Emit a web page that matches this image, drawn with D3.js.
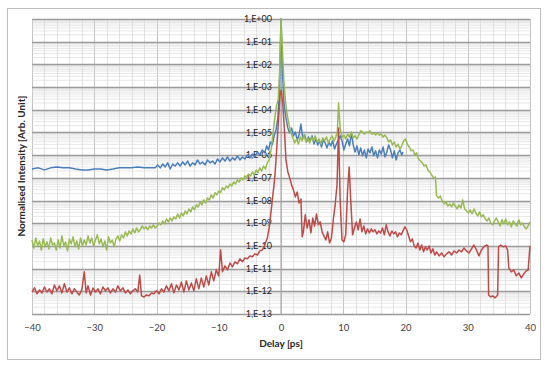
<!DOCTYPE html>
<html>
<head>
<meta charset="utf-8">
<script src="https://cdn.jsdelivr.net/npm/d3@7"></script>
<style>
  body { margin: 0; background: #fff; }
  svg { display: block; font-family: Lato, "Open Sans", sans-serif; }
</style>
</head>
<body>
<div id="chart"></div>
<script>
//---------------------------------- Data --------------------
// each point: [delay in ps, log10 of normalised intensity]
var xTicks = [-40, -30, -20, -10, 0, 10, 20, 30, 40];
var decades = [0, -1, -2, -3, -4, -5, -6, -7, -8, -9, -10, -11, -12, -13];
var decadeLabels = ["1,E+00", "1,E-01", "1,E-02", "1,E-03", "1,E-04", "1,E-05", "1,E-06",
                    "1,E-07", "1,E-08", "1,E-09", "1,E-10", "1,E-11", "1,E-12", "1,E-13"];

var blueSeries = [[-40,-6.61],[-39,-6.56],[-38,-6.65],[-37,-6.56],[-36,-6.52],[-35,-6.56],[-34,-6.56],[-33,-6.61],[-32,-6.65],[-31,-6.65],[-30,-6.61],[-29,-6.61],[-28,-6.65],[-27,-6.61],[-26,-6.56],[-25,-6.56],[-24,-6.56],[-23,-6.52],[-22,-6.56],[-21,-6.56],[-20.2,-6.56],
  [-19.8,-6.43],[-19.4,-6.56],[-19,-6.39],[-18.6,-6.52],[-18.2,-6.34],[-17.8,-6.61],[-17.4,-6.39],[-17,-6.48],[-16.6,-6.34],[-16.2,-6.48],[-15.8,-6.30],[-15.4,-6.43],[-15,-6.26],[-14.6,-6.48],[-14.2,-6.34],[-13.8,-6.43],[-13.4,-6.21],[-13,-6.39],[-12.6,-6.30],[-12.2,-6.43],[-11.8,-6.21],[-11.4,-6.34],[-11,-6.26],[-10.6,-6.39],[-10.2,-6.17],[-9.8,-6.30],[-9.4,-6.12],[-9,-6.26],[-8.6,-6.08],[-8.2,-6.26],[-7.8,-6.12],[-7.4,-6.21],[-7,-6.03],[-6.6,-6.21],[-6.2,-6.08],[-5.8,-6.17],[-5.4,-5.99],[-5,-6.12],[-4.6,-5.95],[-4.2,-6.08],[-3.8,-5.86],[-3.4,-5.99],[-3,-5.77],[-2.6,-5.90],[-2.3,-5.59],[-2,-5.77],[-1.7,-5.42],[-1.4,-5.55],[-1.1,-5.15],[-0.8,-4.89],[-0.5,-4.36],[-0.25,-3.13],[0,0],
  [0.25,-2.47],[0.5,-3.79],[0.8,-4.36],[1.1,-4.80],[1.4,-5.02],[1.7,-4.80],[2,-5.15],[2.3,-4.98],[2.6,-5.33],[2.9,-5.11],[3.2,-4.63],[3.5,-5.24],[3.8,-5.11],[4.1,-5.42],[4.4,-5.20],[4.7,-5.37],[5,-5.15],[5.3,-5.51],[5.6,-5.29],[5.9,-5.55],[6.2,-5.37],[6.5,-5.64],[6.8,-5.33],[7.1,-5.46],[7.4,-5.68],[7.7,-5.42],[8,-5.59],[8.3,-5.37],[8.6,-5.73],[8.9,-5.51],[9.2,-5.33],[9.5,-5.15],[9.8,-5.37],[10.1,-5.77],[10.4,-5.51],[10.7,-5.29],[11,-5.59],[11.3,-5.02],[11.6,-5.55],[11.9,-5.86],[12.2,-5.59],[12.5,-5.99],[12.8,-5.68],[13.1,-6.03],[13.4,-5.77],[13.7,-6.12],[14,-5.73],[14.3,-5.90],[14.6,-5.64],[14.9,-6.03],[15.2,-5.81],[15.5,-6.12],[15.8,-5.77],[16.1,-5.95],[16.4,-5.64],[16.7,-6.08],[17,-5.86],[17.3,-5.55],[17.6,-5.77],[17.9,-6.12],[18.2,-5.81],[18.5,-6.21],[18.8,-5.90],[19.1,-5.77],[19.4,-5.99],[19.6,-5.86]];

var greenSeries = [[-40,-9.74],[-39.7,-10.09],[-39.4,-9.65],[-39.1,-10.00],[-38.8,-9.78],[-38.5,-10.18],[-38.2,-9.69],[-37.9,-10.04],[-37.6,-9.82],[-37.3,-10.13],[-37,-9.65],[-36.7,-9.96],[-36.4,-9.87],[-36.1,-10.18],[-35.8,-9.74],[-35.5,-10.09],[-35.2,-9.56],[-34.9,-10.00],[-34.6,-9.82],[-34.3,-10.22],[-34,-9.69],[-33.7,-9.91],[-33.4,-9.60],[-33.1,-10.04],[-32.8,-9.78],[-32.5,-10.13],[-32.2,-9.65],[-31.9,-10.00],[-31.6,-9.74],[-31.3,-9.96],[-31,-9.56],[-30.7,-9.87],[-30.4,-9.65],[-30.1,-10.00],[-29.8,-9.74],[-29.5,-9.51],[-29.2,-9.91],[-28.9,-9.69],[-28.6,-10.04],[-28.3,-9.78],[-28,-10.18],[-27.7,-9.60],[-27.4,-9.87],[-27.1,-9.74],[-26.8,-10.04],[-26.5,-9.69],[-26.2,-9.56],[-25.9,-9.78],[-25.6,-9.51],[-25.3,-9.65],
  [-25,-9.38],[-24.7,-9.56],[-24.4,-9.34],[-24.1,-9.47],[-23.8,-9.25],[-23.5,-9.43],[-23.2,-9.21],[-22.9,-9.38],[-22.6,-9.29],[-22.3,-9.12],[-22,-9.25],[-21.7,-9.16],[-21.4,-9.29],[-21.1,-9.12],[-20.8,-9.21],[-20.5,-9.07],[-20.2,-9.21],[-19.9,-9.12],[-19.6,-8.99],[-19.3,-9.07],[-19,-8.90],[-18.7,-9.03],[-18.4,-8.81],[-18.1,-8.94],[-17.8,-8.77],[-17.5,-8.90],[-17.2,-8.72],[-16.9,-8.81],[-16.6,-8.59],[-16.3,-8.77],[-16,-8.55],[-15.7,-8.68],[-15.4,-8.46],[-15.1,-8.59],[-14.8,-8.37],[-14.5,-8.50],[-14.2,-8.28],[-13.9,-8.41],[-13.6,-8.19],[-13.3,-8.28],[-13,-8.06],[-12.7,-8.19],[-12.4,-7.97],[-12.1,-8.11],[-11.8,-7.89],[-11.5,-7.97],[-11.2,-7.75],[-10.9,-7.89],[-10.6,-7.66],[-10.3,-7.75],[-10,-7.58],[-9.7,-7.66],[-9.4,-7.44],[-9.1,-7.53],[-8.8,-7.36],[-8.5,-7.44],[-8.2,-7.27],[-7.9,-7.36],[-7.6,-7.18],[-7.3,-7.27],[-7,-7.09],[-6.7,-7.18],[-6.4,-7.00],[-6.1,-7.09],[-5.8,-6.92],[-5.5,-7.00],[-5.2,-6.83],[-4.9,-6.92],[-4.6,-6.74],[-4.3,-6.87],[-4,-6.65],[-3.7,-6.78],[-3.4,-6.56],[-3.1,-6.70],[-2.8,-6.48],[-2.5,-6.61],[-2.2,-6.34],[-1.9,-6.21],[-1.6,-5.77],[-1.3,-5.11],[-1,-4.36],[-0.7,-3.79],[-0.45,-3.57],[-0.2,-2.25],[0,0],
  [0.2,-1.15],[0.45,-2.69],[0.7,-3.57],[1,-4.23],[1.3,-4.67],[1.6,-4.98],[1.9,-5.24],[2.2,-5.46],[2.5,-5.29],[2.8,-5.51],[3.1,-5.20],[3.4,-5.37],[3.7,-5.11],[4,-5.42],[4.3,-5.24],[4.6,-5.46],[4.9,-5.20],[5.2,-5.37],[5.5,-5.15],[5.8,-5.42],[6.1,-5.29],[6.4,-5.51],[6.7,-5.24],[7,-5.37],[7.3,-5.20],[7.6,-5.46],[7.9,-5.29],[8.2,-5.15],[8.5,-5.37],[8.8,-5.20],[9.05,-4.98],[9.25,-3.70],[9.5,-4.80],[9.8,-5.24],[10.1,-5.11],[10.4,-5.29],[10.7,-5.07],[11,-5.20],[11.3,-4.98],[11.6,-5.24],[11.9,-5.15],[12.2,-5.29],[12.5,-5.11],[12.8,-4.93],[13.1,-4.98],[13.4,-5.07],[13.7,-4.98],[14,-5.02],[14.3,-4.93],[14.6,-5.07],[14.9,-5.02],[15.2,-5.11],[15.5,-5.02],[15.8,-5.11],[16.1,-5.07],[16.4,-5.20],[16.7,-5.11],[17,-5.24],[17.3,-5.42],[17.6,-5.33],[17.9,-5.55],[18.2,-5.42],[18.5,-5.64],[18.8,-5.51],[19.1,-5.73],[19.4,-5.59],[19.7,-5.37],[20,-5.29],[20.3,-5.51],[20.6,-5.64],[20.9,-5.81],[21.2,-5.77],[21.5,-5.99],[21.8,-5.90],[22.1,-6.17],[22.4,-6.26],[22.7,-6.34],[23,-6.48],[23.3,-6.43],[23.6,-6.65],[23.9,-6.74],[24.2,-6.87],[24.5,-7.00],[24.8,-6.96],
  [25,-7.80],[25.3,-7.89],[25.6,-7.80],[25.9,-8.02],[26.2,-8.15],[26.5,-8.06],[26.8,-8.24],[27.1,-8.15],[27.4,-8.28],[27.7,-8.11],[28,-8.24],[28.3,-8.37],[28.6,-8.19],[28.9,-8.33],[29.2,-7.97],[29.5,-8.37],[29.8,-8.46],[30.1,-8.55],[30.4,-8.41],[30.7,-8.59],[31,-8.37],[31.3,-8.55],[31.6,-8.68],[31.9,-8.50],[32.2,-8.72],[32.5,-8.63],[32.8,-8.81],[33.1,-8.90],[33.4,-8.77],[33.7,-8.99],[34,-9.07],[34.3,-8.90],[34.6,-8.77],[34.9,-8.94],[35.2,-9.12],[35.5,-8.85],[35.8,-9.03],[36.1,-8.81],[36.4,-9.07],[36.7,-8.94],[37,-9.16],[37.3,-8.90],[37.6,-9.03],[37.9,-9.12],[38.2,-8.85],[38.5,-9.07],[38.8,-8.99],[39.1,-9.16],[39.4,-9.25],[39.7,-9.12],[40,-8.94]];

var redSeries = [[-40,-12.03],[-39.6,-11.85],[-39.2,-12.11],[-38.8,-11.94],[-38.4,-12.07],[-38,-11.81],[-37.6,-12.03],[-37.2,-11.89],[-36.8,-12.11],[-36.4,-11.72],[-36,-11.98],[-35.6,-11.76],[-35.2,-12.07],[-34.8,-11.67],[-34.4,-12.03],[-34,-11.85],[-33.6,-12.11],[-33.2,-11.89],[-32.8,-12.03],[-32.4,-12.16],[-32,-11.94],[-31.6,-11.14],[-31.3,-12.07],[-31,-11.76],[-30.6,-12.16],[-30.2,-11.85],[-29.8,-12.03],[-29.4,-11.89],[-29,-12.11],[-28.6,-11.81],[-28.2,-11.98],[-27.8,-11.85],[-27.4,-12.07],[-27,-11.89],[-26.6,-12.03],[-26.2,-11.76],[-25.8,-11.98],[-25.4,-11.85],[-25,-12.07],[-24.6,-11.94],[-24.2,-12.11],[-23.8,-11.98],[-23.4,-11.89],[-23,-12.03],[-22.7,-11.28],[-22.4,-12.20],[-22,-12.25],[-21.6,-12.16],[-21.2,-12.20],[-20.8,-12.07],[-20.4,-12.11],
  [-20,-11.98],[-19.6,-12.11],[-19.2,-11.89],[-18.8,-12.03],[-18.4,-11.76],[-18,-11.98],[-17.6,-11.67],[-17.2,-12.07],[-16.8,-11.72],[-16.4,-11.94],[-16,-11.59],[-15.6,-12.03],[-15.2,-11.54],[-14.8,-11.94],[-14.4,-11.63],[-14,-11.98],[-13.6,-11.45],[-13.2,-11.89],[-12.8,-11.41],[-12.4,-11.81],[-12,-11.32],[-11.6,-11.72],[-11.2,-11.14],[-10.8,-11.54],[-10.4,-11.06],[-10,-11.32],[-9.7,-10.18],[-9.4,-11.14],[-9,-10.88],[-8.6,-11.06],[-8.2,-10.75],[-7.8,-10.92],[-7.4,-10.70],[-7,-10.79],[-6.6,-10.57],[-6.2,-10.70],[-5.8,-10.53],[-5.4,-10.57],[-5,-10.44],[-4.6,-10.48],[-4.2,-10.35],[-3.8,-10.40],[-3.4,-10.22],[-3,-10.18],[-2.6,-9.96],[-2.2,-9.65],[-1.9,-9.21],[-1.6,-8.50],[-1.3,-7.75],[-1,-7.00],[-0.7,-5.77],[-0.4,-4.45],[-0.15,-3.35],[0.05,-3.13],
  [0.3,-3.79],[0.55,-4.89],[0.8,-6.21],[1.1,-6.74],[1.4,-7.00],[1.7,-7.31],[2,-7.53],[2.3,-7.84],[2.6,-7.62],[2.9,-8.11],[3.2,-7.93],[3.4,-9.60],[3.6,-9.38],[3.9,-8.63],[4.2,-9.21],[4.5,-8.85],[4.8,-9.43],[5.1,-8.77],[5.4,-9.12],[5.7,-8.59],[6,-9.07],[6.3,-8.94],[6.6,-9.38],[6.9,-9.56],[7.2,-9.74],[7.5,-9.38],[7.8,-9.87],[8.1,-9.65],[8.4,-8.85],[8.7,-8.19],[9,-7.31],[9.25,-4.80],[9.5,-7.97],[9.8,-9.74],[10.1,-9.82],[10.4,-9.51],[10.7,-7.53],[10.95,-6.52],[11.2,-7.97],[11.5,-9.51],[11.8,-9.21],[12.1,-8.94],[12.4,-9.29],[12.7,-8.81],[13,-9.38],[13.3,-9.12],[13.6,-9.47],[13.9,-9.25],[14.2,-9.43],[14.5,-9.25],[14.8,-9.38],[15.1,-9.29],[15.4,-9.47],[15.7,-9.34],[16,-9.43],[16.3,-9.21],[16.6,-9.51],[16.9,-9.07],[17.2,-9.38],[17.5,-9.56],[17.8,-9.34],[18.1,-9.47],[18.4,-9.38],[18.7,-9.60],[19,-9.43],[19.3,-9.51],[19.6,-9.34],[19.9,-9.16],[20.2,-9.29],
  [20.5,-9.56],[20.8,-9.82],[21.1,-9.69],[21.4,-10.00],[21.7,-10.09],[22,-9.87],[22.3,-10.18],[22.6,-9.96],[22.9,-10.26],[23.2,-10.04],[23.5,-10.18],[23.8,-10.00],[24.1,-10.31],[24.4,-10.13],[24.7,-10.40],[25,-10.26],[25.4,-10.44],[25.8,-10.31],[26.2,-10.48],[26.6,-10.35],[27,-10.26],[27.4,-10.40],[27.8,-10.22],[28.2,-10.31],[28.6,-10.18],[29,-10.26],[29.4,-10.09],[29.8,-10.22],[30.2,-10.31],[30.6,-10.13],[31,-9.96],[31.4,-10.18],[31.8,-10.44],[32.2,-10.18],[32.6,-10.04],[33,-9.96],[33.25,-10.00],[33.35,-12.16],[33.7,-12.25],[34,-12.20],[34.4,-12.29],[34.8,-12.16],[34.95,-10.04],[35.3,-9.96],[35.7,-10.04],[36.1,-10.00],[36.4,-10.18],[36.6,-10.97],[37,-11.14],[37.4,-11.06],[37.8,-11.32],[38.2,-11.19],[38.6,-11.41],[39,-11.23],[39.4,-11.10],[39.7,-11.06],[40,-10.00]];

//---------------------------------- Layout --------------------
var width = 548, height = 365;
var plot = {left: 32, right: 530, top: 19, bottom: 314};

var svg = d3.select("#chart").append("svg")
    .attr("width", width)
    .attr("height", height);

// outer chart border
svg.append("rect")
    .attr("x", 7.5).attr("y", 8.5)
    .attr("width", 533).attr("height", 351)
    .style("fill", "none")
    .style("stroke", "#bdbdbd")
    .style("stroke-width", 1);

var x_scale = d3.scaleLinear().domain([-40, 40]).range([plot.left, plot.right]);
var y_scale = d3.scaleLog().domain([1e-13, 1]).range([plot.bottom, plot.top]);

//---------------------------------- Grid --------------------
var grid = svg.append("g").attr("class", "grid");

// vertical lines every 2 ps, darker every 10
grid.selectAll(".vline")
    .data(d3.range(-40, 41, 2))
    .enter().append("line")
    .attr("class", "vline")
    .attr("x1", function(d) { return Math.round(x_scale(d)) + 0.5; })
    .attr("x2", function(d) { return Math.round(x_scale(d)) + 0.5; })
    .attr("y1", plot.top)
    .attr("y2", plot.bottom)
    .style("stroke", function(d) { return d % 10 == 0 ? "#c4c4c4" : "#e2e2e2"; })
    .style("stroke-width", 1);

// minor log lines (2..9 per decade)
var minors = [];
decades.slice(0, -1).forEach(function(e) {
  for (var k = 2; k < 10; k++) minors.push(k * Math.pow(10, e - 1));
});

grid.selectAll(".hminor")
    .data(minors)
    .enter().append("line")
    .attr("class", "hminor")
    .attr("x1", plot.left)
    .attr("x2", plot.right)
    .attr("y1", function(d) { return y_scale(d); })
    .attr("y2", function(d) { return y_scale(d); })
    .style("stroke", "#d6d6d6")
    .style("stroke-width", 0.6);

grid.selectAll(".hmajor")
    .data(decades)
    .enter().append("line")
    .attr("class", "hmajor")
    .attr("x1", plot.left)
    .attr("x2", plot.right)
    .attr("y1", function(d) { return Math.round(y_scale(Math.pow(10, d))) + 0.5; })
    .attr("y2", function(d) { return Math.round(y_scale(Math.pow(10, d))) + 0.5; })
    .style("stroke", "#9a9a9a")
    .style("stroke-width", 1.3);

// vertical axis crossing at 0 ps
svg.append("line")
    .attr("x1", x_scale(0)).attr("x2", x_scale(0))
    .attr("y1", plot.top).attr("y2", plot.bottom)
    .style("stroke", "#a0a0a0");

//---------------------------------- Axis labels --------------------
svg.selectAll(".ylab")
    .data(decades)
    .enter().append("text")
    .attr("class", "ylab")
    .attr("x", x_scale(0) - 9)
    .attr("y", function(d) { return y_scale(Math.pow(10, d)); })
    .attr("dy", "0.35em")
    .attr("text-anchor", "end")
    .attr("font-size", "9px")
    .attr("fill", "#222")
    .text(function(d, i) { return decadeLabels[i]; });

var xAxis = d3.axisBottom(x_scale).tickValues(xTicks).tickSize(0).tickPadding(8);
var gx = svg.append("g")
    .attr("transform", "translate(0," + (plot.bottom + 2) + ")")
    .call(xAxis);
gx.select(".domain").remove();
gx.selectAll("text")
    .attr("font-family", "Lato, 'Open Sans', sans-serif")
    .attr("font-size", "9.5px")
    .attr("fill", "#404040");

svg.append("text")
    .attr("x", x_scale(0))
    .attr("y", 347)
    .attr("text-anchor", "middle")
    .attr("font-size", "10px")
    .attr("font-weight", "bold")
    .attr("fill", "#262626")
    .text("Delay [ps]");

svg.append("text")
    .attr("transform", "translate(25," + 166 + ") rotate(-90)")
    .attr("text-anchor", "middle")
    .attr("font-size", "10px")
    .attr("font-weight", "bold")
    .attr("fill", "#262626")
    .text("Normalised Intensity [Arb. Unit]");

//---------------------------------- Series --------------------
var line = d3.line()
    .x(function(d) { return x_scale(d[0]); })
    .y(function(d) { return y_scale(Math.pow(10, d[1])); });

var series = [
  {name: "blue", data: blueSeries, color: "#4a7ebb"},
  {name: "green", data: greenSeries, color: "#98b954"},
  {name: "red", data: redSeries, color: "#be4b48"}
];

svg.selectAll(".series")
    .data(series)
    .enter().append("path")
    .attr("class", "series")
    .attr("d", function(s) { return line(s.data); })
    .style("fill", "none")
    .style("stroke", function(s) { return s.color; })
    .style("stroke-width", 1.5)
    .style("stroke-linejoin", "round");
</script>
</body>
</html>
